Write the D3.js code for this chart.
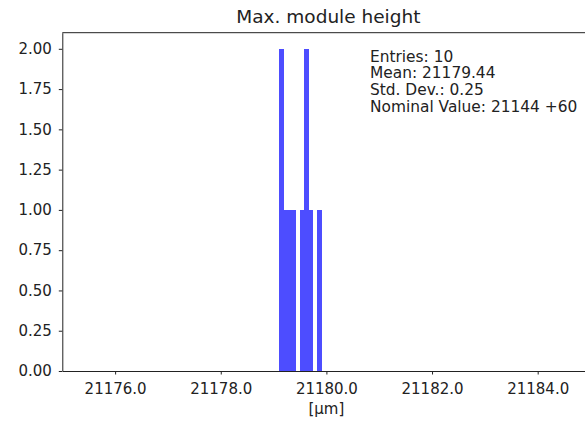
<!DOCTYPE html>
<html>
<head>
<meta charset="utf-8">
<script src="https://cdn.jsdelivr.net/npm/d3@7"></script>
<style>
  body { margin: 0; background: #fff; }
  text { font-family: "DejaVu Sans", sans-serif; fill: #222; }
</style>
</head>
<body>
<svg id="chart" width="585" height="422"></svg>
<script>
// histogram bins (10 bins between min and max)
const binEdges = [21179.10, 21179.18, 21179.26, 21179.34, 21179.42, 21179.50,
                  21179.58, 21179.66, 21179.74, 21179.82, 21179.90];
const counts = [2, 1, 1, 1, 0, 1, 2, 1, 0, 1];
const xTicks = [21176, 21178, 21180, 21182, 21184];
const yTicks = [0, 0.25, 0.5, 0.75, 1, 1.25, 1.5, 1.75, 2];
const statLines = ["Entries: 10", "Mean: 21179.44", "Std. Dev.: 0.25", "Nominal Value: 21144 +60"];

const svg = d3.select("#chart");
const mLeft = 62.3, mRight = 590.5, mTop = 32.7, mBottom = 371;

const x = d3.scaleLinear().domain([21175, 21185]).range([mLeft, mRight]);
const y = d3.scaleLinear().domain([0, 2.1]).range([mBottom, mTop]);

// bars
const bins = counts.map((c, i) => ({ x0: binEdges[i], x1: binEdges[i + 1], n: c }));
svg.append("g")
    .attr("shape-rendering", "crispEdges")
    .selectAll("rect")
    .data(bins.filter(d => d.n > 0))
    .enter()
    .append("rect")
    .attr("x", d => x(d.x0))
    .attr("width", d => x(d.x1) - x(d.x0) + 0.5)
    .attr("y", d => y(d.n))
    .attr("height", d => y(0) - y(d.n))
    .attr("fill", "#4d4dff");

// axes
const xAxis = svg.append("g")
    .attr("transform", `translate(0,${mBottom})`)
    .call(d3.axisBottom(x).tickValues(xTicks).tickFormat(d3.format(".1f"))
        .tickSize(3.5).tickPadding(9).tickSizeOuter(0));
const yAxis = svg.append("g")
    .attr("transform", `translate(${mLeft},0)`)
    .call(d3.axisLeft(y).tickValues(yTicks).tickFormat(d3.format(".2f"))
        .tickSize(3.5).tickPadding(7).tickSizeOuter(0));

[xAxis, yAxis].forEach(g => {
    g.selectAll("text").style("font-size", "15px").attr("fill", "#222");
    g.selectAll("line").attr("stroke", "#222");
    g.select(".domain").attr("stroke", "#222");
});

// top spine
svg.append("line")
    .attr("x1", mLeft).attr("x2", mRight)
    .attr("y1", mTop).attr("y2", mTop)
    .attr("stroke", "#222");

// title and x label
svg.append("text")
    .attr("x", (mLeft + mRight) / 2 + 2)
    .attr("y", 23)
    .attr("text-anchor", "middle")
    .style("font-size", "18.5px")
    .text("Max. module height");

svg.append("text")
    .attr("x", (mLeft + mRight) / 2)
    .attr("y", 413.5)
    .attr("text-anchor", "middle")
    .style("font-size", "15px")
    .text("[µm]");

// stats box text
svg.append("g")
    .selectAll("text")
    .data(statLines)
    .enter()
    .append("text")
    .attr("x", 370)
    .attr("y", (d, i) => 61.7 + i * 16.7)
    .style("font-size", "15.4px")
    .text(d => d);
</script>
</body>
</html>
